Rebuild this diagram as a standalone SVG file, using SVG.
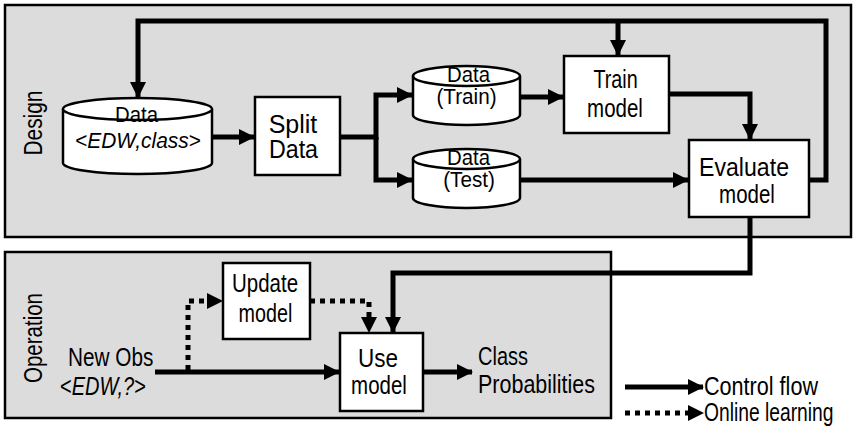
<svg xmlns="http://www.w3.org/2000/svg" width="853" height="428" viewBox="0 0 853 428">
  <style>
    .panel { fill: #dcdcdc; stroke: #000; stroke-width: 2.5; }
    .box { fill: #fff; stroke: #000; stroke-width: 2.5; }
    .t { font-family: "Liberation Sans", Arial, sans-serif; font-size: 25px; fill: #000; text-anchor: middle; }
    .s { font-size: 22px; }
    .l { text-anchor: start; }
    .it { font-style: italic; }
    .flow { fill: none; stroke: #000; stroke-width: 5; stroke-linejoin: miter; }
    .dot { fill: none; stroke: #000; stroke-width: 5; stroke-dasharray: 5 5; }
    .head { fill: none; stroke: none; }
  </style>
  <defs>
    <marker id="arr" markerUnits="userSpaceOnUse" markerWidth="16" markerHeight="16" refX="15" refY="8" orient="auto">
      <path d="M0,0 L16,8 L0,16 Z" fill="#000"/>
    </marker>
  </defs>

  <!-- panels; labels are narrowed with a horizontal scale -->
  <g id="design-panel">
    <rect class="panel" x="5" y="5" width="846" height="232"/>
    <text class="t" transform="translate(42,123) rotate(-90) scale(0.835,1)">Design</text>
  </g>
  <g id="operation-panel">
    <rect class="panel" x="5" y="252" width="606" height="166"/>
    <text class="t" transform="translate(42,338) rotate(-90) scale(0.82,1)">Operation</text>
  </g>

  <!-- connectors -->
  <g id="connectors">
    <path class="flow" d="M212,137 H254" marker-end="url(#arr)"/>
    <path class="flow" d="M340,137 H376 V95 H412" marker-end="url(#arr)"/>
    <path class="flow" d="M376,137 V180 H412" marker-end="url(#arr)"/>
    <path class="flow" d="M520,97 H563" marker-end="url(#arr)"/>
    <path class="flow" d="M520,180 H688" marker-end="url(#arr)"/>
    <path class="flow" d="M669,94 H750 V139" marker-end="url(#arr)"/>
    <path class="flow" d="M809,180 H826 V21 H138 V97" marker-end="url(#arr)"/>
    <path class="flow" d="M618,21 V55" marker-end="url(#arr)"/>
    <path class="flow" d="M750,217 V273 H393 V332" marker-end="url(#arr)"/>
    <path class="flow" d="M155,372 H339" marker-end="url(#arr)"/>
    <path class="dot" d="M188,370 V301 H210"/>
    <path class="head" d="M206,301 H222" marker-end="url(#arr)"/>
    <path class="dot" d="M310,301 H369 V318"/>
    <path class="head" d="M369,316 V332" marker-end="url(#arr)"/>
    <path class="flow" d="M423,372 H472" marker-end="url(#arr)"/>
    <!-- legend lines -->
    <path class="flow" d="M625,387 H703" marker-end="url(#arr)"/>
    <path class="dot" d="M625,413 H688"/>
    <path class="head" d="M688,413 H703" marker-end="url(#arr)"/>
  </g>

  <!-- nodes -->
  <g id="data-all">
    <path class="box" d="M63,109 V163 A74.5,11 0 0 0 212,163 V109"/>
    <ellipse class="box" cx="137.5" cy="109" rx="74.5" ry="11"/>
    <text class="t s" transform="translate(136.5,122) scale(0.925,1)">Data</text>
    <text class="t s" transform="translate(138,148) scale(0.95,1)">&lt;<tspan class="it">EDW,class</tspan>&gt;</text>
  </g>
  <g id="split-data">
    <rect class="box" x="255" y="97" width="85" height="78"/>
    <text class="t" transform="translate(293,133)">Split</text>
    <text class="t" transform="translate(293.5,158) scale(0.93,1)">Data</text>
  </g>
  <g id="data-train">
    <path class="box" d="M413,76 V115 A53.5,10 0 0 0 520,115 V76"/>
    <ellipse class="box" cx="466.5" cy="76" rx="53.5" ry="10"/>
    <text class="t s" transform="translate(468.5,82) scale(0.925,1)">Data</text>
    <text class="t s" transform="translate(466.5,104) scale(0.94,1)">(Train)</text>
  </g>
  <g id="data-test">
    <path class="box" d="M413,159 V198 A53.5,10 0 0 0 520,198 V159"/>
    <ellipse class="box" cx="466.5" cy="159" rx="53.5" ry="10"/>
    <text class="t s" transform="translate(468.5,165) scale(0.925,1)">Data</text>
    <text class="t s" transform="translate(469,187) scale(0.94,1)">(Test)</text>
  </g>
  <g id="train-model">
    <rect class="box" x="564" y="56" width="105" height="77"/>
    <text class="t" transform="translate(615.5,88) scale(0.79,1)">Train</text>
    <text class="t" transform="translate(615,117) scale(0.82,1)">model</text>
  </g>
  <g id="evaluate-model">
    <rect class="box" x="689" y="140" width="120" height="77"/>
    <text class="t" transform="translate(744,176) scale(0.925,1)">Evaluate</text>
    <text class="t" transform="translate(747,203) scale(0.82,1)">model</text>
  </g>
  <g id="update-model">
    <rect class="box" x="223" y="263" width="87" height="76"/>
    <text class="t" transform="translate(265,292) scale(0.82,1)">Update</text>
    <text class="t" transform="translate(265.5,322) scale(0.79,1)">model</text>
  </g>
  <g id="use-model">
    <rect class="box" x="340" y="333" width="83" height="78"/>
    <text class="t" transform="translate(378,367) scale(0.9,1)">Use</text>
    <text class="t" transform="translate(379,394) scale(0.82,1)">model</text>
  </g>
  <g id="new-obs">
    <text class="t l" transform="translate(68,366) scale(0.83,1)">New Obs</text>
    <text class="t l" transform="translate(60,395) scale(0.8,1)">&lt;<tspan class="it">EDW,?</tspan>&gt;</text>
  </g>
  <g id="class-probabilities">
    <text class="t l" transform="translate(478,365) scale(0.8,1)">Class</text>
    <text class="t l" transform="translate(478,393) scale(0.86,1)">Probabilities</text>
  </g>
  <g id="legend">
    <text class="t l" transform="translate(704,395) scale(0.864,1)">Control flow</text>
    <text class="t l" transform="translate(704,421) scale(0.77,1)">Online learning</text>
  </g>
</svg>
